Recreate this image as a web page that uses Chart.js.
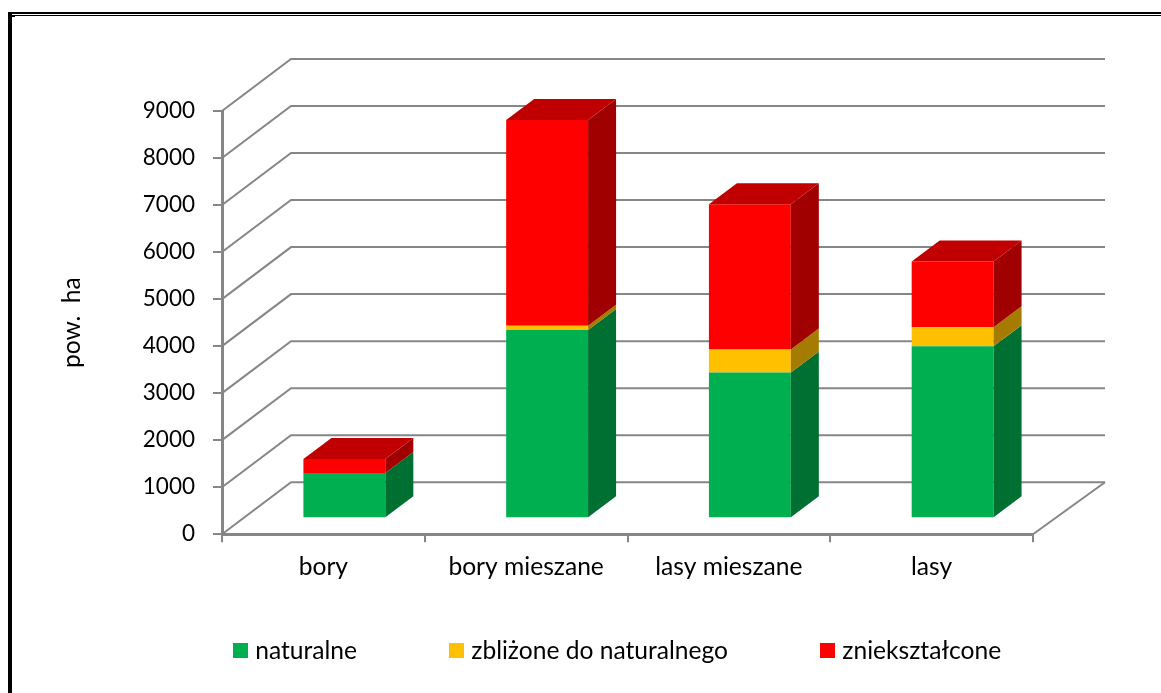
<!DOCTYPE html>
<html>
<head>
<meta charset="utf-8">
<script src="https://cdn.jsdelivr.net/npm/chart.js@4"></script>
<style>
html,body{margin:0;padding:0;background:#fff;width:1161px;height:693px;overflow:hidden}
canvas{position:absolute;left:0;top:0}
.frame{position:absolute;background:#000}
</style>
</head>
<body>
<canvas id="chart" width="1161" height="693"></canvas>
<div class="frame" style="left:8px;top:12px;width:1153px;height:2px"></div>
<div class="frame" style="left:8px;top:15px;width:1153px;height:1px"></div>
<div class="frame" style="left:8px;top:12px;width:4px;height:681px"></div>
<div class="frame" style="left:12px;top:16px;width:3px;height:1px"></div>
<script>
const categories = ["bory","bory mieszane","lasy mieszane","lasy"]
const naturalne = [960,4000,3100,3655]
const zblizone = [0,95,490,405]
const znieksztalcone = [300,4375,3085,1400]
const yMax = 9000
const yStep = 1000

const gridColor = "#868686"
const font = "Lato, Carlito, sans-serif"

// depth of the back wall and of the bars
const wallDx = 69, wallDy = 52
const barDx = 28, barDy = 21
const frontDx = 21, frontDy = 16

const sideColors = ["#006F32","#A67C00","#A00000"]
const topColors = ["#007A38","#B08400","#C00000"]

// legend square as an image, so the text can sit closer to it than Chart.js allows
function legendSquare(color){
  const c = document.createElement("canvas")
  c.width = 15
  c.height = 15
  const g = c.getContext("2d")
  g.fillStyle = color
  g.fillRect(0,0,15,15)
  return c
}

const depthPlugin = {
  id:"depth",
  afterLayout(chart){
    // legend is not centred on the canvas in the original
    const lg = chart.legend
    const h = lg.bottom-lg.top
    lg.left += 103
    lg.right += 103
    lg.top = 541.5
    lg.bottom = lg.top+h
    lg.adjustHitBoxes()
  },
  beforeDatasetsDraw(chart){
    const ctx = chart.ctx
    const x = chart.scales.x, y = chart.scales.y
    ctx.save()
    ctx.strokeStyle = gridColor
    ctx.lineWidth = 2
    ctx.lineJoin = "miter"
    y.ticks.forEach(t=>{
      const py = y.getPixelForValue(t.value)
      ctx.beginPath()
      ctx.moveTo(x.left,py)
      ctx.lineTo(x.left+wallDx,py-wallDy)
      ctx.lineTo(x.right+wallDx+3,py-wallDy)
      ctx.stroke()
    })
    // floor edge on the right
    const py0 = y.getPixelForValue(0)
    ctx.beginPath()
    ctx.moveTo(x.right,py0)
    ctx.lineTo(x.right+wallDx+3,py0-wallDy)
    ctx.stroke()
    ctx.restore()
    ctx.save()
    ctx.translate(frontDx,-frontDy)
  },
  afterDatasetsDraw(chart){
    const ctx = chart.ctx
    chart.data.datasets.forEach((ds,d)=>{
      chart.getDatasetMeta(d).data.forEach((bar,i)=>{
        if(ds.data[i]===0) return
        const r = bar.x+bar.width/2
        ctx.fillStyle = sideColors[d]
        ctx.beginPath()
        ctx.moveTo(r,bar.y)
        ctx.lineTo(r+barDx,bar.y-barDy)
        ctx.lineTo(r+barDx,bar.base-barDy)
        ctx.lineTo(r,bar.base)
        ctx.closePath()
        ctx.fill()
      })
    })
    // top face only on the last series
    const last = chart.data.datasets.length-1
    chart.getDatasetMeta(last).data.forEach(bar=>{
      const l = bar.x-bar.width/2, r = bar.x+bar.width/2
      ctx.fillStyle = topColors[last]
      ctx.beginPath()
      ctx.moveTo(l,bar.y)
      ctx.lineTo(l+barDx,bar.y-barDy)
      ctx.lineTo(r+barDx,bar.y-barDy)
      ctx.lineTo(r,bar.y)
      ctx.closePath()
      ctx.fill()
    })
    ctx.restore()
  }
}

new Chart(document.getElementById("chart").getContext("2d"),{
  type:"bar",
  plugins:[depthPlugin],
  data:{
    labels:categories,
    datasets:[
      {label:"naturalne",data:naturalne,backgroundColor:"#00B050"},
      {label:"zbliżone do naturalnego",data:zblizone,backgroundColor:"#FFC000"},
      {label:"zniekształcone",data:znieksztalcone,backgroundColor:"#FF0000"}
    ]
  },
  options:{
    responsive:false,
    animation:false,
    events:[],
    datasets:{bar:{categoryPercentage:1,barPercentage:0.404}},
    layout:{padding:{left:0,right:128,top:111,bottom:-32.8}},
    plugins:{
      tooltip:{enabled:false},
      legend:{
        position:"bottom",
        labels:{
          usePointStyle:true,
          pointStyleWidth:5,
          boxHeight:15,
          padding:97,
          color:"#000",
          font:{family:font,size:24.6},
          generateLabels(chart){
            return Chart.defaults.plugins.legend.labels.generateLabels(chart).map(item=>{
              item.pointStyle = legendSquare(item.fillStyle)
              return item
            })
          }
        }
      }
    },
    scales:{
      x:{
        stacked:true,
        afterFit(s){s.height=60},
        grid:{drawOnChartArea:false,color:gridColor,lineWidth:2,tickLength:8},
        border:{color:gridColor,width:3},
        ticks:{color:"#000",padding:10,maxRotation:0,font:{family:font,size:24.6}}
      },
      y:{
        stacked:true,
        min:0,
        max:yMax,
        afterFit(s){s.width=222},
        grid:{drawOnChartArea:false,color:gridColor,lineWidth:2,tickLength:9},
        border:{color:gridColor,width:3},
        ticks:{stepSize:yStep,color:"#000",padding:18,format:{useGrouping:false},font:{family:font,size:22.5}},
        title:{display:true,text:"pow.  ha",color:"#000",padding:{top:57,bottom:0},font:{family:font,size:24.6}}
      }
    }
  }
})
</script>
</body>
</html>
